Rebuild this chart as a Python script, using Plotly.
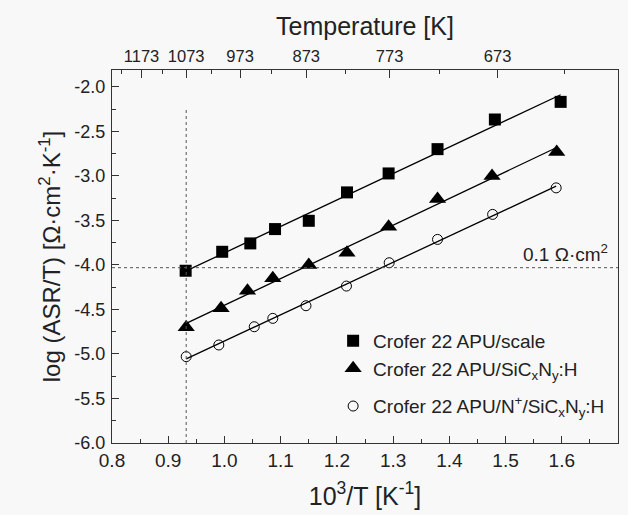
import numpy as np
import plotly.graph_objects as go

# ---- data ----
x_scale = [0.931, 0.996, 1.046, 1.090, 1.150, 1.218, 1.292, 1.379, 1.481, 1.598]
y_scale = [-4.065, -3.852, -3.758, -3.597, -3.504, -3.185, -2.972, -2.699, -2.366, -2.168]

x_sicn = [0.932, 0.994, 1.041, 1.086, 1.150, 1.218, 1.292, 1.379, 1.476, 1.591]
y_sicn = [-4.70, -4.487, -4.29, -4.15, -4.00, -3.863, -3.571, -3.26, -3.002, -2.73]

x_nsicn = [0.932, 0.990, 1.053, 1.086, 1.145, 1.217, 1.293, 1.379, 1.477, 1.590]
y_nsicn = [-5.03, -4.899, -4.694, -4.60, -4.458, -4.237, -3.975, -3.713, -3.432, -3.134]

names = ["Crofer 22 APU/scale",
         "Crofer 22 APU/SiC<sub>x</sub>N<sub>y</sub>:H",
         "Crofer 22 APU/N<sup>+</sup>/SiC<sub>x</sub>N<sub>y</sub>:H"]
groups = ["a", "a", "b"]

top_major_T = [1173, 1073, 973, 873, 773, 673]
top_minor_T = [1223, 1123, 1023, 923, 823, 723, 623]

x_ticks = [0.8, 0.9, 1.0, 1.1, 1.2, 1.3, 1.4, 1.5, 1.6, 1.7]
x_ticklabels = ["0.8", "0.9", "1.0", "1.1", "1.2", "1.3", "1.4", "1.5", "1.6", "1.7"]
y_ticks = [-6.0, -5.5, -5.0, -4.5, -4.0, -3.5, -3.0, -2.5, -2.0]
y_ticklabels = ["-6.0", "-5.5", "-5.0", "-4.5", "-4.0", "-3.5", "-3.0", "-2.5", "-2.0"]

T_ref = 1073        # K, vertical guide
ASR_ref = 0.1       # ohm cm^2, horizontal guide
vline_top = -2.24

FONT = "Liberation Sans, Arial, sans-serif"
INK = "#222222"

fig = go.Figure()

series = [
    (x_scale, y_scale, dict(symbol="square", size=12, color="black")),
    (x_sicn, y_sicn, dict(symbol="triangle-up", size=15, color="black")),
    (x_nsicn, y_nsicn, dict(symbol="circle-open", size=10, color="black",
                            line=dict(width=1, color="#333333"))),
]

# linear fits
for xs, ys, mk in series:
    p = np.polyfit(xs, ys, 1)
    fx = [min(xs), max(xs)]
    fy = [p[0] * v + p[1] for v in fx]
    fig.add_trace(go.Scatter(x=fx, y=fy, mode="lines",
                             line=dict(color="black", width=1.3),
                             showlegend=False, hoverinfo="skip"))

for (xs, ys, mk), nm, g in zip(series, names, groups):
    fig.add_trace(go.Scatter(x=xs, y=ys, mode="markers", name=nm, marker=mk,
                             legendgroup=g))

# invisible trace to carry the top axis
fig.add_trace(go.Scatter(x=[0.8, 1.7], y=[-6, -6], xaxis="x2", mode="markers",
                         marker=dict(opacity=0), showlegend=False, hoverinfo="skip"))

y_ref = float(np.log10(ASR_ref / T_ref))
x_ref = 1000.0 / T_ref

fig.add_shape(type="line", xref="x", yref="y", x0=0.8, x1=1.7, y0=y_ref, y1=y_ref,
              line=dict(color="#555555", width=1, dash="dot"))
fig.add_shape(type="line", xref="x", yref="y", x0=x_ref, x1=x_ref, y0=-6.0, y1=vline_top,
              line=dict(color="#555555", width=1, dash="dot"))

fig.add_annotation(x=1.685, y=y_ref, xref="x", yref="y", xanchor="right", yanchor="bottom",
                   yshift=1, text="0.1 Ω·cm<sup>2</sup>", showarrow=False,
                   font=dict(size=19, color=INK, family=FONT))

axis_common = dict(showline=True, linecolor="#333333", linewidth=1.3,
                   ticks="inside", tickcolor="#333333", tickwidth=1.2,
                   showgrid=False, zeroline=False)

fig.update_layout(
    width=628, height=515,
    margin=dict(l=112, r=10, t=70, b=72),
    paper_bgcolor="#f8f8f8", plot_bgcolor="#f8f8f8",
    font=dict(family=FONT, color=INK),
    xaxis=dict(range=[0.8, 1.7], tickmode="array", tickvals=x_ticks, ticktext=x_ticklabels,
               ticklen=7, tickfont=dict(size=19),
               minor=dict(dtick=0.05, tick0=0.8, ticks="inside", ticklen=4,
                          tickcolor="#333333"),
               title=dict(text="10<sup>3</sup>/T [K<sup>-1</sup>]", font=dict(size=25),
                          standoff=17),
               **axis_common),
    xaxis2=dict(range=[0.8, 1.7], overlaying="x", side="top", anchor="y",
                tickmode="array", tickvals=[1000.0 / t for t in top_major_T],
                ticktext=[str(t) for t in top_major_T],
                ticklen=8, tickfont=dict(size=16.5),
                minor=dict(tickmode="array", tickvals=[1000.0 / t for t in top_minor_T],
                           ticks="inside", ticklen=4, tickcolor="#333333"),
                title=dict(text="Temperature [K]", font=dict(size=25), standoff=4),
                **axis_common),
    yaxis=dict(range=[-6.0, -1.81], tickmode="array", tickvals=y_ticks, ticktext=y_ticklabels,
               ticklen=7, tickfont=dict(size=18), mirror=True, ticklabelstandoff=2,
               minor=dict(dtick=0.25, tick0=-6.0, ticks="inside", ticklen=4,
                          tickcolor="#333333"),
               title=dict(text="log (ASR/T) [Ω·cm<sup>2</sup>·K<sup>-1</sup>]",
                          font=dict(size=24), standoff=6),
               **axis_common),
    legend=dict(x=0.437, y=0.325, xanchor="left", yanchor="top",
                bgcolor="rgba(0,0,0,0)", borderwidth=0, tracegroupgap=10,
                font=dict(size=19, color=INK, family=FONT)),
)

fig.write_html("out.html")
